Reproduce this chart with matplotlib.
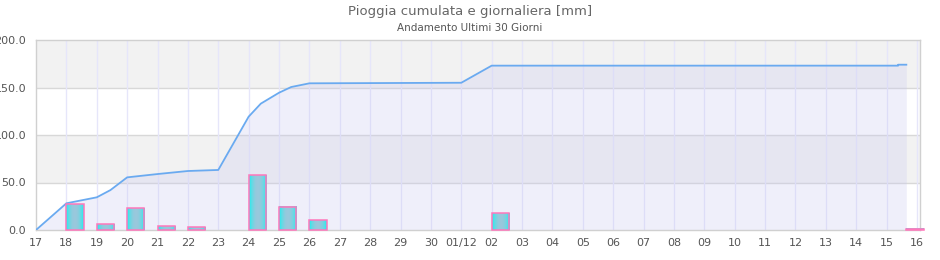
import numpy as np
import matplotlib
matplotlib.use('Agg')
import matplotlib.pyplot as plt
from matplotlib.patches import Rectangle
from matplotlib.colors import LinearSegmentedColormap

# etichette giorni (17 nov -> 16 dic)
giorni = ['17', '18', '19', '20', '21', '22', '23', '24', '25', '26', '27', '28', '29', '30',
          '01/12', '02', '03', '04', '05', '06', '07', '08', '09', '10', '11', '12', '13', '14', '15', '16']

# pioggia giornaliera [mm]
pioggia_giorno = [0.0, 27.0, 6.0, 22.8, 3.9, 2.8, 0.0, 57.6, 24.6, 10.2, 0.0, 0.0, 0.0, 0.0,
                  0.0, 17.5, 0.0, 0.0, 0.0, 0.0, 0.0, 0.0, 0.0, 0.0, 0.0, 0.0, 0.0, 0.0, 0.0, 1.5]

# pioggia cumulata: tempo (giorni dall'inizio) e valore [mm]
cum_t = [0, 1, 2, 2.45, 3, 4, 5, 6, 7, 7.4, 8, 8.4, 9, 14, 15, 28, 28.38, 28.38, 28.65]
cum_v = [0.0, 28.1, 34.4, 42.0, 55.4, 58.9, 62.1, 63.2, 119.3, 133.0, 144.5, 150.5, 154.4, 155.0,
         173.0, 173.0, 173.0, 174.0, 174.0]

W, H = 940, 260
fig = plt.figure(figsize=(W / 100, H / 100), dpi=100)
ax = fig.add_axes([36 / W, 30 / H, (920 - 36) / W, (230 - 40) / H])

# bande alternate
for y0 in (50, 150):
    ax.axhspan(y0, y0 + 50, color='#f2f2f2', zorder=0, lw=0)
for y in (50, 100, 150):
    ax.axhline(y, color='#d8d8d8', lw=1, zorder=1)
for i in range(1, len(giorni)):
    ax.axvline(i, color='#e6e6fa', lw=1, zorder=1)

# area + linea cumulata
ax.fill_between(cum_t, cum_v, 0, color='#c8c8f0', alpha=0.28, lw=0, zorder=2)
ax.plot(cum_t, cum_v, color='#6aaaf0', lw=1.3, zorder=4)

# barre giornaliere con gradiente orizzontale
xs = np.linspace(0, 1, 21)
grad = (np.abs(xs - 0.5) * 2) ** 2.2
grad = grad[np.newaxis, :]
cmap = LinearSegmentedColormap.from_list('bar', ['#99c8dc', '#20f0f0'])
bar_left = np.arange(len(giorni)).astype(float)
bar_left[-1] = 28.65  # giorno corrente, parziale
bw = 0.57
for x0, v in zip(bar_left, pioggia_giorno):
    if v <= 0:
        continue
    rect = Rectangle((x0, 0), bw, v, facecolor='none', edgecolor='#ff77bb', lw=1.1,
                     zorder=6, clip_on=False)
    ax.add_patch(rect)
    im = ax.imshow(grad, cmap=cmap, aspect='auto', extent=(x0, x0 + bw, 0, v),
                   interpolation='bilinear', zorder=5)
    im.set_clip_path(rect)
    im.set_clip_on(False)
ax.set_xlim(0, 29.1)
ax.set_ylim(0, 200)

ax.set_xticks(range(len(giorni)))
ax.set_xticklabels(giorni)
ax.set_yticks([0, 50, 100, 150, 200])
ax.set_yticklabels(['0.0', '50.0', '100.0', '150.0', '200.0'])
ax.tick_params(length=0, labelsize=8, colors='#555555')
ax.tick_params(axis='x', pad=6)
ax.tick_params(axis='y', pad=7)
for s in ax.spines.values():
    s.set_color('#d0d0d0')
    s.set_linewidth(1)

fig.text(0.5, 1 - 11 / H, 'Pioggia cumulata e giornaliera [mm]', ha='center', va='center',
         fontsize=9.5, color='#666666')
fig.text(0.5, 1 - 28 / H, 'Andamento Ultimi 30 Giorni', ha='center', va='center',
         fontsize=7.5, color='#555555')

fig.savefig('out.png', dpi=100)
